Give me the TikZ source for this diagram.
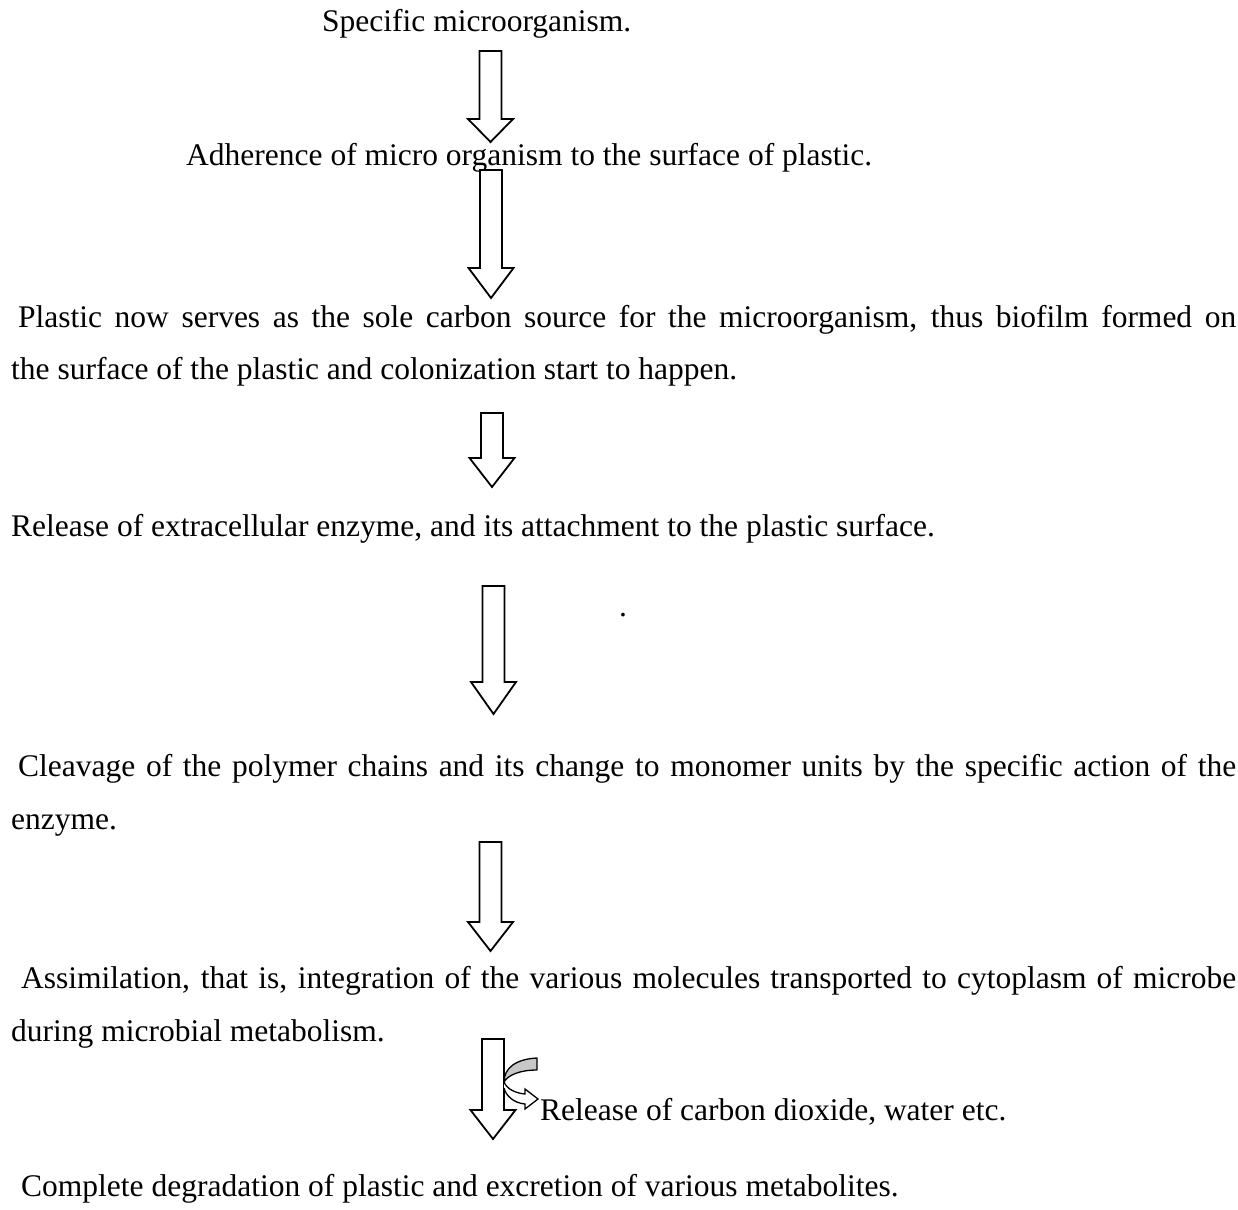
\documentclass[tikz,border=0pt]{standalone}
\usepackage{fontspec}
\setmainfont{Liberation Serif}
\tikzset{
  txt/.style={anchor=base west, inner sep=0pt, font=\fontsize{31.5}{40}\selectfont},
  blockarrow/.style={draw=black, line width=1.8pt, fill=white, line join=miter},
  curvgray/.style={draw=black, line width=1.3pt, fill=black!22, line join=round},
  curvwhite/.style={draw=black, line width=1.3pt, fill=white, line join=miter}
}
\newcommand\blockarr[4]{% cx, top, head base, tip
  \draw[blockarrow] (#1-11,#2) -- (#1+11,#2) -- (#1+11,#3) -- (#1+22.5,#3) -- (#1,#4) -- (#1-22.5,#3) -- (#1-11,#3) -- cycle;}
\begin{document}
\begin{tikzpicture}[x=1pt,y=-1pt]
\useasboundingbox (0,0) rectangle (1238,1209);

\node[txt] (t1) at (322,32) {Specific microorganism.};
\node[txt] (t2) at (186,166) {Adherence of micro organism to the surface of plastic.};
\node[txt] (t3a) at (18,327) {\makebox[1218pt][s]{Plastic now serves as the sole carbon source for the microorganism, thus biofilm formed on}};
\node[txt] (t3b) at (11,379) {the surface of the plastic and colonization start to happen.};
\node[txt] (t4) at (11,536) {Release of extracellular enzyme, and its attachment to the plastic surface.};
\node[txt] (dot) at (619,616) {.};
\node[txt] (t5a) at (18,776) {\makebox[1218pt][s]{Cleavage of the polymer chains and its change to monomer units by the specific action of the}};
\node[txt] (t5b) at (11,829) {enzyme.};
\node[txt] (t6a) at (21,988) {\makebox[1215pt][s]{Assimilation, that is, integration of the various molecules transported to cytoplasm of microbe}};
\node[txt] (t6b) at (11,1041) {during microbial metabolism.};
\node[txt] (side) at (540,1120) {Release of carbon dioxide, water etc.};
\node[txt] (t7) at (21,1196) {Complete degradation of plastic and excretion of various metabolites.};

\blockarr{490.5}{51}{119}{142}
\blockarr{491}{170}{268}{298}
\blockarr{492}{413}{458}{487}
\blockarr{493.5}{586}{682}{714}
\blockarr{490.5}{842}{922}{951}
\blockarr{493}{1039}{1110}{1139}

% curved side arrow
\draw[curvgray] (537,1058) .. controls (516,1059) and (504,1068) .. (504,1082)
  .. controls (508,1075) and (520,1070) .. (537,1070) -- cycle;
\draw[curvwhite] (504,1082) .. controls (507,1089) and (515,1093) .. (525,1094)
  -- (525,1089) -- (538,1099) -- (525,1109) -- (525,1104)
  .. controls (514,1103) and (506,1096) .. (504,1088);
\end{tikzpicture}
\end{document}
